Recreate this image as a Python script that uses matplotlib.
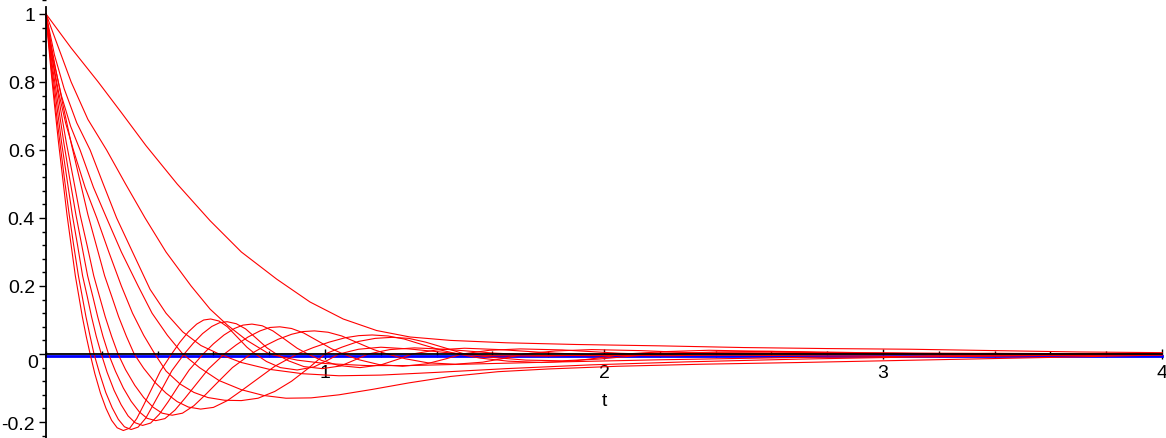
import matplotlib
matplotlib.use("Agg")
import matplotlib.pyplot as plt
from matplotlib.ticker import MultipleLocator

plt.rcParams['font.family'] = ['Liberation Sans Narrow', 'Liberation Sans', 'DejaVu Sans']

# curves, fastest (k1) to slowest (k11)
t1 = [0, 0.008, 0.017, 0.03, 0.045, 0.06, 0.075, 0.09, 0.105, 0.118, 0.13, 0.144, 0.158,
      0.175, 0.195, 0.215, 0.235, 0.255, 0.277, 0.3, 0.325, 0.35, 0.38, 0.41, 0.45,
      0.48, 0.51, 0.54, 0.565, 0.59, 0.62, 0.65, 0.685, 0.72, 0.75,
      0.79, 0.84, 0.9, 0.96, 1.01, 1.05, 1.12, 1.2, 1.3, 1.45, 1.6, 1.8, 2.2, 2.8, 3.4, 4.0]
y1 = [1, 0.92, 0.84, 0.735, 0.62, 0.515, 0.41, 0.32, 0.23, 0.168, 0.11, 0.052, 0,
      -0.058, -0.115, -0.16, -0.195, -0.217, -0.225, -0.218, -0.19, -0.15, -0.1, -0.05, 0,
      0.035, 0.065, 0.088, 0.1, 0.103, 0.097, 0.08, 0.05, 0.02, 0,
      -0.022, -0.04, -0.047, -0.038, -0.018, 0, 0.014, 0.02, 0.015, 0.003, -0.005, -0.006, 0.003, 0.003, 0, 0]

t2 = [0, 0.009, 0.019, 0.033, 0.05, 0.066, 0.083, 0.099, 0.116, 0.13, 0.143, 0.158, 0.172,
      0.192, 0.214, 0.237, 0.259, 0.281, 0.305, 0.33, 0.358, 0.385, 0.418, 0.451, 0.495,
      0.528, 0.561, 0.594, 0.622, 0.649, 0.682, 0.715, 0.754, 0.792, 0.825,
      0.869, 0.924, 0.99, 1.056, 1.111, 1.155, 1.232, 1.32, 1.43, 1.6, 1.76, 2.0, 2.4, 3.0, 3.6, 4.0]
y2 = [1, 0.92, 0.84, 0.735, 0.62, 0.515, 0.41, 0.32, 0.23, 0.168, 0.11, 0.052, 0,
      -0.057, -0.113, -0.158, -0.192, -0.214, -0.222, -0.215, -0.188, -0.148, -0.099, -0.049, 0,
      0.032, 0.06, 0.081, 0.092, 0.095, 0.089, 0.074, 0.046, 0.018, 0,
      -0.02, -0.037, -0.043, -0.035, -0.016, 0, 0.013, 0.018, 0.014, 0.003, -0.004, -0.005, 0.003, 0.002, 0, 0]

t3 = [0, 0.01, 0.021, 0.038, 0.056, 0.075, 0.094, 0.113, 0.131, 0.148, 0.163, 0.18, 0.198,
      0.219, 0.244, 0.269, 0.294, 0.319, 0.346, 0.375, 0.406, 0.438, 0.475, 0.513, 0.563,
      0.6, 0.638, 0.675, 0.706, 0.738, 0.775, 0.813, 0.856, 0.9, 0.938,
      0.988, 1.05, 1.125, 1.2, 1.263, 1.313, 1.4, 1.5, 1.625, 1.813, 2.0, 2.25, 2.7, 3.3, 3.8, 4.0]
y3 = [1, 0.92, 0.84, 0.735, 0.62, 0.515, 0.41, 0.32, 0.23, 0.168, 0.11, 0.052, 0,
      -0.054, -0.107, -0.149, -0.182, -0.202, -0.21, -0.203, -0.177, -0.14, -0.093, -0.047, 0,
      0.03, 0.056, 0.075, 0.085, 0.088, 0.083, 0.068, 0.043, 0.017, 0,
      -0.019, -0.034, -0.04, -0.032, -0.015, 0, 0.012, 0.017, 0.013, 0.003, -0.004, -0.005, 0.003, 0.002, 0, 0]

t4 = [0, 0.011, 0.024, 0.043, 0.064, 0.085, 0.107, 0.128, 0.149, 0.168, 0.185, 0.204, 0.224,
      0.249, 0.277, 0.305, 0.334, 0.362, 0.393, 0.426, 0.462, 0.497, 0.54, 0.582, 0.639,
      0.682, 0.724, 0.767, 0.802, 0.838, 0.88, 0.923, 0.973, 1.022, 1.065,
      1.122, 1.193, 1.278, 1.363, 1.434, 1.491, 1.59, 1.7, 1.85, 2.06, 2.27, 2.6, 3.0, 3.6, 4.0]
y4 = [1, 0.92, 0.84, 0.735, 0.62, 0.515, 0.41, 0.32, 0.23, 0.168, 0.11, 0.052, 0,
      -0.051, -0.1, -0.139, -0.17, -0.189, -0.196, -0.19, -0.165, -0.131, -0.087, -0.044, 0,
      0.027, 0.05, 0.068, 0.078, 0.08, 0.075, 0.062, 0.039, 0.016, 0,
      -0.017, -0.031, -0.036, -0.029, -0.014, 0, 0.011, 0.015, 0.012, 0.002, -0.003, -0.004, 0.002, 0.001, 0]

t5 = [0, 0.013, 0.028, 0.049, 0.073, 0.098, 0.122, 0.147, 0.171, 0.192, 0.212, 0.235, 0.258,
      0.285, 0.318, 0.35, 0.383, 0.416, 0.452, 0.489, 0.53, 0.571, 0.619, 0.668, 0.734,
      0.782, 0.831, 0.88, 0.921, 0.962, 1.011, 1.06, 1.117, 1.174, 1.223,
      1.288, 1.369, 1.467, 1.565, 1.646, 1.712, 1.826, 1.956, 2.13, 2.37, 2.6, 2.93, 3.4, 4.0]
y5 = [1, 0.92, 0.84, 0.735, 0.62, 0.515, 0.41, 0.32, 0.23, 0.168, 0.11, 0.052, 0,
      -0.046, -0.092, -0.128, -0.156, -0.174, -0.18, -0.174, -0.152, -0.12, -0.08, -0.04, 0,
      0.023, 0.043, 0.058, 0.066, 0.068, 0.064, 0.053, 0.033, 0.013, 0,
      -0.014, -0.026, -0.03, -0.024, -0.012, 0, 0.009, 0.013, 0.01, 0.002, -0.003, -0.003, 0.002, 0]

t6 = [0, 0.016, 0.034, 0.06, 0.09, 0.12, 0.15, 0.18, 0.21, 0.236, 0.26, 0.288, 0.316,
      0.35, 0.39, 0.43, 0.47, 0.51, 0.554, 0.6, 0.65, 0.7, 0.76, 0.82, 0.9,
      0.958, 1.015, 1.073, 1.121, 1.169, 1.226, 1.284, 1.351, 1.418, 1.476,
      1.556, 1.656, 1.776, 1.896, 1.996, 2.076, 2.216, 2.376, 2.576, 2.876, 3.176, 3.576, 4.0]
y6 = [1, 0.92, 0.84, 0.735, 0.62, 0.515, 0.41, 0.32, 0.23, 0.168, 0.11, 0.052, 0,
      -0.042, -0.083, -0.115, -0.14, -0.156, -0.162, -0.157, -0.137, -0.108, -0.072, -0.036, 0,
      0.019, 0.035, 0.048, 0.054, 0.056, 0.053, 0.044, 0.027, 0.011, 0,
      -0.012, -0.021, -0.025, -0.02, -0.01, 0, 0.007, 0.011, 0.008, 0.002, -0.003, -0.003, 0]

t7 = [0, 0.02, 0.045, 0.07, 0.098, 0.14, 0.182, 0.225, 0.27, 0.31, 0.35, 0.39,
      0.43, 0.48, 0.53, 0.58, 0.64, 0.7, 0.76, 0.82, 0.88, 0.94, 1.0,
      1.06, 1.12, 1.18, 1.24, 1.3, 1.36, 1.43, 1.5,
      1.6, 1.72, 1.85, 1.98, 2.1, 2.2, 2.4, 2.6, 2.85, 3.2, 3.6, 4.0]
y7 = [1, 0.88, 0.77, 0.68, 0.6, 0.49, 0.4, 0.3, 0.2, 0.12, 0.055, 0,
      -0.05, -0.088, -0.113, -0.128, -0.136, -0.137, -0.13, -0.11, -0.08, -0.042, 0,
      0.02, 0.037, 0.046, 0.049, 0.046, 0.035, 0.018, 0,
      -0.01, -0.018, -0.02, -0.015, -0.006, 0, 0.006, 0.008, 0.005, 0, -0.002, 0]

t8 = [0, 0.025, 0.055, 0.088, 0.122, 0.17, 0.217, 0.27, 0.33, 0.38, 0.435, 0.49,
      0.55, 0.62, 0.7, 0.78, 0.86, 0.95, 1.05, 1.17, 1.3, 1.45, 1.62, 1.8, 2.05,
      2.35, 2.7, 3.0, 3.3, 3.6, 4.0]
y8 = [1, 0.87, 0.76, 0.67, 0.6, 0.49, 0.4, 0.3, 0.2, 0.12, 0.055, 0,
      -0.04, -0.078, -0.105, -0.122, -0.13, -0.129, -0.12, -0.104, -0.085, -0.066, -0.052, -0.044, -0.036,
      -0.03, -0.025, -0.02, -0.015, -0.01, -0.003]

t9 = [0, 0.03, 0.065, 0.11, 0.158, 0.205, 0.253, 0.31, 0.373, 0.43, 0.49, 0.555, 0.62,
      0.7, 0.8, 0.92, 1.05, 1.2, 1.4, 1.65, 1.95, 2.3, 2.7, 3.1, 3.5, 4.0]
y9 = [1, 0.88, 0.78, 0.68, 0.6, 0.5, 0.4, 0.3, 0.19, 0.12, 0.065, 0.025, 0,
      -0.025, -0.045, -0.058, -0.064, -0.062, -0.054, -0.043, -0.032, -0.023, -0.015, -0.009, -0.005, -0.002]

t10 = [0, 0.045, 0.09, 0.15, 0.217, 0.285, 0.355, 0.43, 0.52, 0.588, 0.65, 0.72, 0.8,
       0.9, 1.0, 1.15, 1.3, 1.5, 1.8, 2.2, 2.7, 3.2, 4.0]
y10 = [1, 0.9, 0.8, 0.69, 0.6, 0.5, 0.4, 0.3, 0.2, 0.132, 0.085, 0.04, 0,
       -0.018, -0.028, -0.034, -0.034, -0.03, -0.024, -0.017, -0.01, -0.006, -0.002]

t11 = [0, 0.09, 0.187, 0.27, 0.358, 0.47, 0.588, 0.7, 0.827, 0.946, 1.065, 1.185, 1.305,
       1.45, 1.65, 1.9, 2.2, 2.5, 2.8, 3.1, 3.4, 3.7, 4.0]
y11 = [1, 0.9, 0.8, 0.71, 0.613, 0.5, 0.392, 0.3, 0.22, 0.153, 0.103, 0.069, 0.05,
       0.04, 0.033, 0.028, 0.024, 0.019, 0.016, 0.014, 0.01, 0.006, 0.004]

curves = [(t1, y1), (t2, y2), (t3, y3), (t4, y4), (t5, y5), (t6, y6),
          (t7, y7), (t8, y8), (t9, y9), (t10, y10), (t11, y11)]

# the flat blue line along the axis
blue_t = [0, 4]
blue_y = [-0.005, -0.005]

ytick_vals = [-0.2, 0, 0.2, 0.4, 0.6, 0.8, 1]
ytick_text = ['-0.2', '', '0.2', '0.4', '0.6', '0.8', '1']
xtick_vals = [1, 2, 3, 4]
xtick_text = ['1', '2', '3', '4']

fig = plt.figure(figsize=(11.66, 4.39), dpi=100)
ax = fig.add_axes([0, 0, 1, 1])

ax.plot(blue_t, blue_y, color='#0000ff', lw=2.0, zorder=2)
for t, y in curves:
    ax.plot(t, y, color='#ff0000', lw=0.8, zorder=3)

ax.set_xlim(-0.165, 4.014)
ax.set_ylim(-0.247, 1.044)

ax.spines['left'].set_position(('data', 0))
ax.spines['bottom'].set_position(('data', 0))
ax.spines['top'].set_visible(False)
ax.spines['right'].set_visible(False)
ax.spines['left'].set_bounds(-0.247, 1.02)
ax.spines['bottom'].set_bounds(0, 4.0)
for s in ['left', 'bottom']:
    ax.spines[s].set_linewidth(1.3)
    ax.spines[s].set_zorder(4)

ax.set_yticks(ytick_vals)
ax.set_yticklabels(ytick_text, fontsize=14)
ax.yaxis.set_minor_locator(MultipleLocator(0.04))
ax.set_xticks(xtick_vals)
ax.set_xticklabels(xtick_text, fontsize=14)
ax.xaxis.set_minor_locator(MultipleLocator(0.2))
ax.tick_params(axis='y', which='major', direction='out', length=5, width=1, pad=3)
ax.tick_params(axis='y', which='minor', direction='out', length=3, width=1)
ax.tick_params(axis='x', which='major', direction='inout', length=7, width=1, pad=4)
ax.tick_params(axis='x', which='minor', direction='inout', length=4, width=1)

# Maple puts the zero label a little under the axis
ax.text(-0.047, -0.026, '0', fontsize=14, ha='center', va='center')
ax.text(2.0, -0.138, 't', fontsize=14, ha='center', va='center')

fig.savefig('out.png', dpi=100)
